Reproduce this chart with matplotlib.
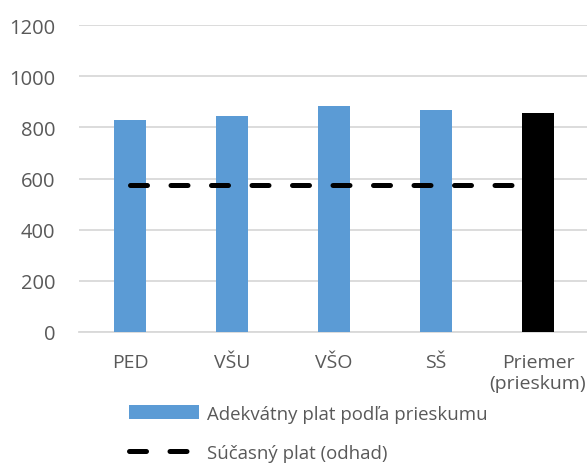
import matplotlib
matplotlib.use('Agg')
import matplotlib.pyplot as plt
from matplotlib.lines import Line2D
from matplotlib.patches import Patch

# data
categories = ['PED', 'VŠU', 'VŠO', 'SŠ', 'Priemer\n(prieskum)']
adequate = [829, 844, 885, 868, 856]
current = [575, 575, 575, 575, 575]
yticks = [0, 200, 400, 600, 800, 1000, 1200]

blue = '#5B9BD5'
grey_text = '#595959'
grid_col = '#D9D9D9'

plt.rcParams['font.family'] = ['Open Sans', 'DejaVu Sans']
plt.rcParams['font.size'] = 14

fig = plt.figure(figsize=(5.87, 4.64), dpi=100)
ax = fig.add_axes([79 / 587, 1 - 333 / 464, 510 / 587, 307 / 464])

x = list(range(len(categories)))
colors = [blue] * (len(categories) - 1) + ['black']
ax.bar(x, adequate, width=0.31, color=colors, zorder=2)
ax.plot(x, current, color='black', linewidth=3.6, dashes=(3.4, 4.7),
        dash_capstyle='round', zorder=3)

ax.set_xlim(-0.5, len(categories) - 0.5)
ax.set_ylim(0, 1200)
ax.set_yticks(yticks)
ax.set_xticks(x)
ax.set_xticklabels(categories, color=grey_text, linespacing=1.2)
ax.tick_params(axis='y', length=0, pad=17, labelcolor=grey_text, labelsize=14.5)
ax.tick_params(axis='x', length=0, pad=15)
ax.grid(axis='y', color=grid_col, linewidth=1.3, zorder=0)
for s in ['top', 'right', 'left']:
    ax.spines[s].set_visible(False)
ax.spines['bottom'].set_color(grid_col)
ax.spines['bottom'].set_linewidth(1.3)
ax.spines['bottom'].set_zorder(1)

handles = [Patch(facecolor=blue, edgecolor='none'),
           Line2D([0], [0], color='black', linewidth=3.6, dashes=(3.4, 4.7),
                  dash_capstyle='round')]
labels = ['Adekvátny plat podľa prieskumu', 'Súčasný plat (odhad)']
leg = fig.legend(handles, labels, loc='upper left',
                 bbox_to_anchor=(112 / 587, 1 - 389 / 464),
                 frameon=False, handlelength=3.75, handleheight=0.8,
                 labelspacing=1.15, handletextpad=0.45, fontsize=13.4)
for t in leg.get_texts():
    t.set_color(grey_text)

fig.savefig('out.png', dpi=100)
